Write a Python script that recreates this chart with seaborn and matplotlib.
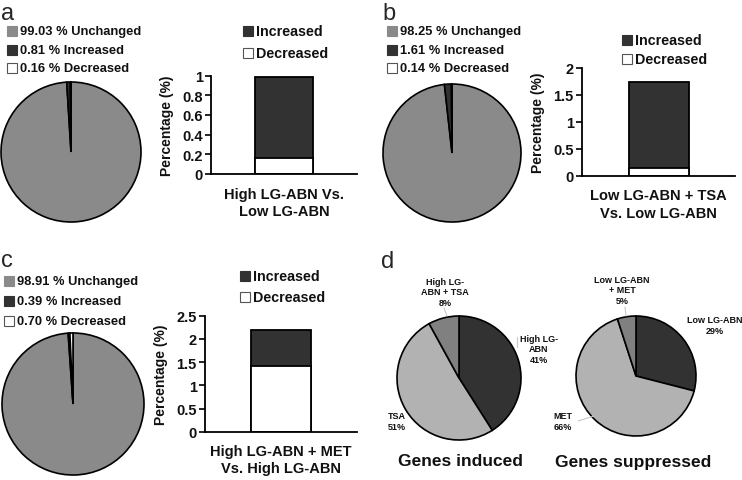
import numpy as np
import pandas as pd
import matplotlib
matplotlib.use("Agg")
import matplotlib.pyplot as plt
from matplotlib.patches import Rectangle
from matplotlib.lines import Line2D
from matplotlib.ticker import FuncFormatter
import seaborn as sns

# ---------------- data ----------------
pie_categories = ["Unchanged", "Increased", "Decreased"]
pie_a = [99.03, 0.81, 0.16]
pie_b = [98.25, 1.61, 0.14]
pie_c = [98.91, 0.39, 0.70]

bar_labels = ["High LG-ABN Vs.\nLow LG-ABN",
              "Low LG-ABN + TSA\nVs. Low LG-ABN",
              "High LG-ABN + MET\nVs. High LG-ABN"]
bar_increased = [0.82, 1.61, 0.78]
bar_decreased = [0.16, 0.14, 1.42]
bar_ymax = [1.0, 2.0, 2.5]
bar_ystep = [0.2, 0.5, 0.5]

induced_labels = ["High LG-\nABN", "TSA", "High LG-\nABN + TSA"]
induced_values = [41, 51, 8]
suppressed_labels = ["Low LG-ABN", "MET", "Low LG-ABN\n+ MET"]
suppressed_values = [29, 66, 5]

# ---------------- style ----------------
sns.set_theme(style="ticks")
plt.rcParams['font.family'] = ['Liberation Sans', 'DejaVu Sans']
plt.rcParams['axes.edgecolor'] = 'black'

GRAY = '#8a8a8a'
DARK = '#323232'
WHITE = '#ffffff'
LIGHT = '#b2b2b2'
MID = '#808080'
TXT = '#111111'
pie_colors = [GRAY, DARK, WHITE]

W, H = 742, 481
fig = plt.figure(figsize=(W / 100, H / 100), dpi=100)
fig.patch.set_facecolor('white')


def fxy(x, y):
    return x / W, 1 - y / H


def add_ax(left, top, right, bottom):
    return fig.add_axes([left / W, 1 - bottom / H, (right - left) / W, (bottom - top) / H])


def key(x, y, color, text, size, sq=10):
    fig.patches.append(Rectangle(fxy(x, y + sq / 2), sq / W, sq / H,
                                 transform=fig.transFigure, facecolor=color,
                                 edgecolor='#555555' if color == WHITE else color,
                                 linewidth=0.8))
    fig.text(*fxy(x + sq + 3, y), text, ha='left', va='center',
             fontsize=size, fontweight='bold', color=TXT)


def pie_panel(cx, cy, r, values, colors, pad=3):
    ax = add_ax(cx - r - pad, cy - r - pad, cx + r + pad, cy + r + pad)
    ax.pie(values, colors=colors, startangle=90, counterclock=False, radius=1,
           wedgeprops=dict(edgecolor='black', linewidth=1.2))
    lim = (r + pad) / r
    ax.set_xlim(-lim, lim)
    ax.set_ylim(-lim, lim)
    ax.axis('off')
    return ax


def bar_panel(left, top, right, bottom, label, inc, dec, ymax, step):
    ax = add_ax(left, top, right, bottom)
    df = pd.DataFrame({"comparison": [label], "total": [inc + dec], "decreased": [dec]})
    sns.barplot(data=df, x="comparison", y="total", color=DARK, saturation=1,
                edgecolor='black', linewidth=1.3, width=0.8, ax=ax)
    sns.barplot(data=df, x="comparison", y="decreased", color=WHITE, saturation=1,
                edgecolor='black', linewidth=1.3, width=0.8, ax=ax)
    ax.set_xlim(-1.02, 1.02)
    ax.set_ylim(0, ymax)
    ax.set_yticks(np.arange(0, ymax + 1e-9, step))
    ax.yaxis.set_major_formatter(FuncFormatter(lambda v, p: f"{v:g}"))
    sns.despine(ax=ax)
    for s in ['left', 'bottom']:
        ax.spines[s].set_linewidth(1.3)
        ax.spines[s].set_color('black')
    ax.tick_params(axis='y', direction='out', length=4, width=1.2, color='black',
                   labelsize=10.5, pad=2)
    ax.tick_params(axis='x', length=0, pad=9, labelsize=10.5)
    for t in ax.get_yticklabels() + ax.get_xticklabels():
        t.set_fontweight('bold')
        t.set_color(TXT)
    for t in ax.get_xticklabels():
        t.set_linespacing(1.3)
    ax.set_xlabel('')
    ax.set_ylabel('Percentage (%)', fontsize=10, fontweight='bold', color=TXT, labelpad=6)
    ax.patch.set_alpha(0)
    return ax


# ---------------- panel letters ----------------
fig.text(*fxy(1, 20), 'a', fontsize=17, ha='left', va='baseline')
fig.text(*fxy(382, 20), 'b', fontsize=17, ha='left', va='baseline')
fig.text(*fxy(1, 267), 'c', fontsize=17, ha='left', va='baseline')
fig.text(*fxy(381, 268), 'd', fontsize=17, ha='left', va='baseline')

# ---------------- panel a ----------------
pie_panel(71, 153, 70, pie_a, pie_colors)
for i, (v, c) in enumerate(zip(pie_a, pie_categories)):
    key(7, 32 + i * 18.5, pie_colors[i], f"{v:.2f} % {c}", 9.3)
bar_panel(211, 76.5, 357, 175, bar_labels[0], bar_increased[0], bar_decreased[0],
          bar_ymax[0], bar_ystep[0])
key(243, 32, DARK, "Increased", 10.3)
key(243, 54, WHITE, "Decreased", 10.3)

# ---------------- panel b ----------------
pie_panel(452, 154, 69, pie_b, pie_colors)
for i, (v, c) in enumerate(zip(pie_b, pie_categories)):
    key(387, 32 + i * 18.5, pie_colors[i], f"{v:.2f} % {c}", 9.3)
bar_panel(582, 69, 735, 177, bar_labels[1], bar_increased[1], bar_decreased[1],
          bar_ymax[1], bar_ystep[1])
key(622, 41, DARK, "Increased", 10.3)
key(622, 60, WHITE, "Decreased", 10.3)

# ---------------- panel c ----------------
pie_panel(73, 405, 71, pie_c, pie_colors)
for i, (v, c) in enumerate(zip(pie_c, pie_categories)):
    key(4, 282 + i * 20, pie_colors[i], f"{v:.2f} % {c}", 9.3)
bar_panel(205, 316.7, 357, 432.7, bar_labels[2], bar_increased[2], bar_decreased[2],
          bar_ymax[2], bar_ystep[2])
key(240, 277, DARK, "Increased", 10.3)
key(240, 298, WHITE, "Decreased", 10.3)

# ---------------- panel d ----------------
d_colors = [DARK, LIGHT, MID]
pie_panel(459, 379, 62, induced_values, d_colors)
pie_panel(636, 377, 60, suppressed_values, d_colors)

induced_pos = [(539, 350), (397, 422), (445, 293)]
suppressed_pos = [(715, 326), (563, 422), (622, 291)]
for lab, val, (x, y) in zip(induced_labels, induced_values, induced_pos):
    fig.text(*fxy(x, y), f"{lab}\n{val}%", ha='center', va='center',
             fontsize=6.5, fontweight='bold', color=TXT)
for lab, val, (x, y) in zip(suppressed_labels, suppressed_values, suppressed_pos):
    fig.text(*fxy(x, y), f"{lab}\n{val}%", ha='center', va='center',
             fontsize=6.5, fontweight='bold', color=TXT)

# faint leader lines
leaders = [((444, 309), (447, 317)), ((517, 338), (517, 348)),
           ((398, 420), (404, 416)), ((625, 308), (626, 317)),
           ((578, 422), (594, 417))]
for (x0, y0), (x1, y1) in leaders:
    fig.add_artist(Line2D([x0 / W, x1 / W], [1 - y0 / H, 1 - y1 / H],
                          transform=fig.transFigure, color='#c8c8c8', linewidth=0.8))

fig.text(*fxy(460, 462), "Genes induced", ha='center', va='center',
         fontsize=12.5, fontweight='bold', color=TXT)
fig.text(*fxy(633, 462), "Genes suppressed", ha='center', va='center',
         fontsize=12.5, fontweight='bold', color=TXT)

fig.savefig("out.png", dpi=100, facecolor='white')
